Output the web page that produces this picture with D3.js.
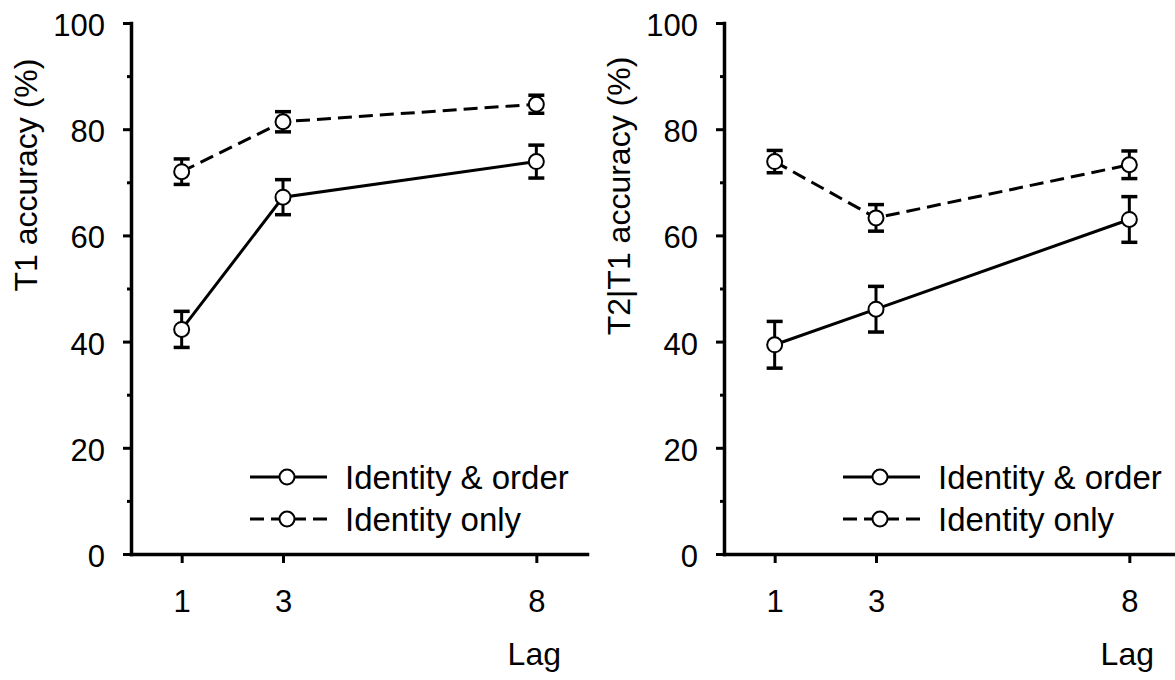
<!DOCTYPE html>
<html>
<head>
<meta charset="utf-8">
<script src="https://cdn.jsdelivr.net/npm/d3@7"></script>
<style>
body{margin:0;background:#fff}
svg{display:block}
text{font-family:"Liberation Sans",Arial,sans-serif;fill:#000}
</style>
</head>
<body>
<script>
// data
const lags=[1,3,8]
const seriesNames=["Identity & order","Identity only"]
const t1Order=[42.3,67.2,73.9]
const t1OrderErr=[3.4,3.3,3.1]
const t1Only=[72.0,81.4,84.7]
const t1OnlyErr=[2.4,1.9,1.7]
const t2Order=[39.4,46.1,63.0]
const t2OrderErr=[4.4,4.3,4.3]
const t2Only=[73.9,63.3,73.3]
const t2OnlyErr=[2.1,2.5,2.6]
const yTicks=[0,20,40,60,80,100]
const yMinor=[10,30,50,70,90]

//constants
const W=1175, H=680
const plotTop=23, plotBottom=554
const plotW=456

const svg=d3.select("body").append("svg")
  .attr("width",W).attr("height",H)

const x=d3.scaleLinear().domain([0,9]).range([0,plotW])
const y=d3.scaleLinear().domain([0,100]).range([plotBottom,plotTop])

function drawPanel(left,title,titleY,order,orderErr,only,onlyErr){
  const g=svg.append("g").attr("transform","translate("+left+",0)")

  // minor ticks
  g.append("g")
    .call(d3.axisLeft(y).tickValues(yMinor).tickSize(4).tickSizeOuter(0).tickFormat(""))
    .call(a=>a.select(".domain").remove())
    .call(a=>a.selectAll("line").attr("stroke-width",3))

  // y axis
  g.append("g")
    .call(d3.axisLeft(y).tickValues(yTicks).tickSize(8).tickPadding(18).tickSizeOuter(0))
    .call(a=>a.select(".domain").attr("stroke-width",3.5).attr("stroke-linecap","square"))
    .call(a=>a.selectAll("line").attr("stroke-width",3))
    .call(a=>a.selectAll("text").attr("font-size",31).attr("dy","0.4em")
      .attr("font-family","Liberation Sans, Arial, sans-serif"))

  // x axis
  g.append("g").attr("transform","translate(0,"+plotBottom+")")
    .call(d3.axisBottom(x).tickValues(lags).tickSize(9).tickPadding(27).tickSizeOuter(0))
    .call(a=>a.select(".domain").attr("stroke-width",3.5).attr("stroke-linecap","square"))
    .call(a=>a.selectAll("line").attr("stroke-width",3))
    .call(a=>a.selectAll("text").attr("font-size",31)
      .attr("font-family","Liberation Sans, Arial, sans-serif"))

  g.append("text").attr("x",430).attr("y",665)
    .attr("text-anchor","end").attr("font-size",32).text("Lag")

  g.append("text")
    .attr("transform","translate(-94,"+titleY+") rotate(-90)")
    .attr("text-anchor","middle").attr("font-size",32).text(title)

  const line=d3.line().x((d,i)=>x(lags[i])).y(d=>y(d))
  const sets=[
    {v:order,e:orderErr,dash:null},
    {v:only,e:onlyErr,dash:"14,7"}
  ]
  sets.forEach(s=>{
    g.append("path").datum(s.v)
      .attr("d",line).attr("fill","none").attr("stroke","#000")
      .attr("stroke-width",3).attr("stroke-dasharray",s.dash)

    const eb=g.append("g").selectAll("g").data(s.v).enter().append("g")
    eb.append("line")
      .attr("x1",(d,i)=>x(lags[i])).attr("x2",(d,i)=>x(lags[i]))
      .attr("y1",(d,i)=>y(d+s.e[i])).attr("y2",(d,i)=>y(d-s.e[i]))
      .attr("stroke","#000").attr("stroke-width",3)
    ;[1,-1].forEach(k=>{
      eb.append("line")
        .attr("x1",(d,i)=>x(lags[i])-8).attr("x2",(d,i)=>x(lags[i])+8)
        .attr("y1",(d,i)=>y(d+k*s.e[i])).attr("y2",(d,i)=>y(d+k*s.e[i]))
        .attr("stroke","#000").attr("stroke-width",3.5)
    })
    eb.append("circle")
      .attr("cx",(d,i)=>x(lags[i])).attr("cy",d=>y(d)).attr("r",7.5)
      .attr("fill","#fff").attr("stroke","#000").attr("stroke-width",2)
  })

  // legend
  const leg=g.append("g").selectAll("g").data(seriesNames).enter().append("g")
    .attr("transform",(d,i)=>"translate(0,"+(477+i*42)+")")
  leg.append("line").attr("x1",119).attr("x2",196)
    .attr("stroke","#000").attr("stroke-width",3)
    .attr("stroke-dasharray",(d,i)=>i==1?"14,7":null)
  leg.append("circle").attr("cx",156).attr("r",7.5)
    .attr("fill","#fff").attr("stroke","#000").attr("stroke-width",2)
  leg.append("text").attr("x",214).attr("dy","0.36em")
    .attr("font-size",33).text(d=>d)
}

drawPanel(131,"T1 accuracy (%)",175,t1Order,t1OrderErr,t1Only,t1OnlyErr)
drawPanel(724,"T2|T1 accuracy (%)",196,t2Order,t2OrderErr,t2Only,t2OnlyErr)
</script>
</body>
</html>
